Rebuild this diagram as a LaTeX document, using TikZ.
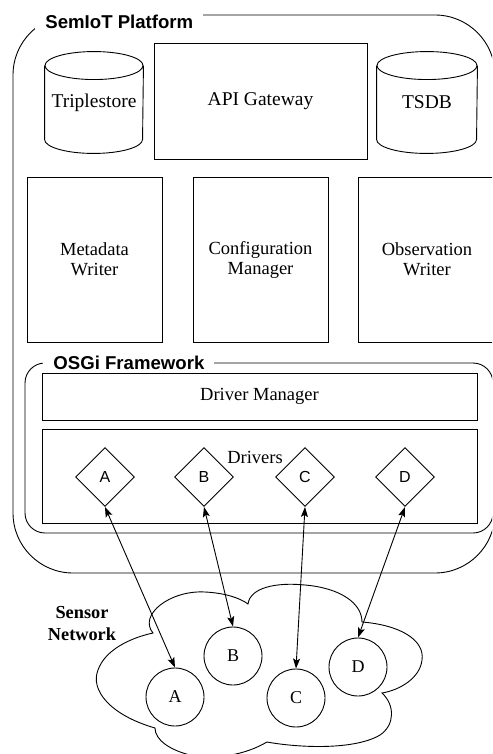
\documentclass[tikz,border=0pt]{standalone}
\usepackage{fontspec}
\setmainfont{Liberation Serif}
\setsansfont{Liberation Sans}
\newfontfamily\tnrfont{Liberation Serif}
\newfontfamily\arialfont{Liberation Sans}
\usetikzlibrary{shapes}
\usetikzlibrary{arrows.meta}
\tikzset{
	block/.style = {draw=black, rectangle, align=center, inner sep=0pt,
		font=\tnrfont\fontsize{18.5}{20}\selectfont},% component box
	store/.style = {rectangle, align=center, inner sep=0pt,
		minimum height=101pt, font=\tnrfont\fontsize{19.5}{20}\selectfont},% data store, outline drawn below
	container/.style = {draw=black, rectangle, rounded corners=#1},% framework frame
	framelabel/.style = {fill=white, anchor=west, inner xsep=10pt, inner ysep=2pt,
		font=\arialfont\bfseries\fontsize{18.6}{20}\selectfont},% frame title
	drv/.style = {draw=black, diamond, aspect=1, inner sep=0pt,
		minimum width=59pt, minimum height=59pt,
		font=\arialfont\fontsize{16}{18}\selectfont},% driver bundle
	dev/.style = {draw=black, circle, inner sep=0pt, minimum size=58pt,
		font=\tnrfont\fontsize{18}{20}\selectfont}% sensor device
}

\begin{document}
\begin{tikzpicture}[x=1pt, y=-1pt, line width=0.9pt, <->,
		>={Stealth[length=10pt, width=7pt, inset=2pt]}]
	\useasboundingbox (0,0) rectangle (492,754);
	\clip (0,0) rectangle (492,754);
	% platform
	\node [container=60pt, minimum width=482pt, minimum height=558pt] (platform) at (254,294) {};
	\node [framelabel] (platformlbl) at (35,22) {SemIoT Platform};
	\node [store, minimum width=98pt] (triple) at (94,102.5) {Triplestore};
	\draw [-] ([yshift=-14pt]triple.north west) -- ([yshift=14pt]triple.south west)
		arc [start angle=180, end angle=360, x radius=49pt, y radius=14pt]
		-- ([yshift=-14pt]triple.north east);
	\draw [-] ([yshift=-14pt]triple.north) ellipse [x radius=49pt, y radius=14pt];
	\node [block, minimum width=213pt, minimum height=116pt,
		font=\tnrfont\fontsize{19.5}{20}\selectfont] (api) at (260.5,101) {API Gateway};
	\node [store, minimum width=100pt] (tsdb) at (427,102.5) {TSDB};
	\draw [-] ([yshift=-14pt]tsdb.north west) -- ([yshift=14pt]tsdb.south west)
		arc [start angle=180, end angle=360, x radius=50pt, y radius=14pt]
		-- ([yshift=-14pt]tsdb.north east);
	\draw [-] ([yshift=-14pt]tsdb.north) ellipse [x radius=50pt, y radius=14pt];
	\node [block, minimum width=135pt, minimum height=165pt] (meta) at (94.5,259.5) {Metadata\\Writer};
	\node [block, minimum width=135pt, minimum height=165pt] (conf) at (260.5,259.5) {Configuration\\Manager};
	\node [block, minimum width=138pt, minimum height=165pt] (obs) at (427,259.5) {Observation\\Writer};
	% osgi
	\node [container=20pt, minimum width=468pt, minimum height=170pt] (osgi) at (259,448) {};
	\node [framelabel] (osgilbl) at (43,363) {OSGi Framework};
	\node [block, minimum width=435pt, minimum height=47pt] (dm) at (259.5,396.5) {Driver Manager};
	\node [block, minimum width=435pt, minimum height=94pt] (drivers) at (259.5,476) {};
	\node [font=\tnrfont\fontsize{18.5}{20}\selectfont] (driverslbl) at (255,457) {Drivers};
	\node [drv] (dA) at (105,477) {A};
	\node [drv] (dB) at (204,477) {B};
	\node [drv] (dC) at (305,477) {C};
	\node [drv] (dD) at (405,477) {D};
	% sensor network
	\draw [-] (153,633) .. controls (138,615) and (170,590) .. (205,592)
		.. controls (225,593) and (240,598) .. (248,604)
		.. controls (250,588) and (275,582) .. (305,585)
		.. controls (340,588) and (362,603) .. (362,622)
		.. controls (400,625) and (425,640) .. (422,660)
		.. controls (420,678) and (400,690) .. (382,693)
		.. controls (395,705) and (395,725) .. (380,735)
		.. controls (355,750) and (300,748) .. (267,742)
		.. controls (245,755) and (215,760) .. (190,755)
		.. controls (170,750) and (155,740) .. (155,728)
		.. controls (110,715) and (90,690) .. (98,670)
		.. controls (105,650) and (130,638) .. (153,633) -- cycle;
	\node [align=center, font=\tnrfont\bfseries\fontsize{18.3}{22}\selectfont] (netlbl) at (82,624) {Sensor\\Network};
	\node [dev] (cA) at (175,697) {A};
	\node [dev] (cB) at (233,656) {B};
	\node [dev] (cC) at (296,698) {C};
	\node [dev] (cD) at (358,667) {D};
	\draw (dA.south) -- (cA.north);
	\draw (dB.south) -- (cB.north);
	\draw (dC.south) -- (cC.north);
	\draw (dD.south) -- (cD.north);
\end{tikzpicture}
\end{document}
